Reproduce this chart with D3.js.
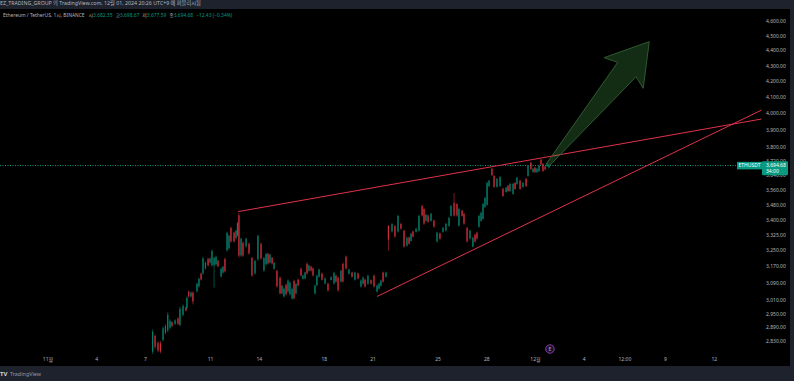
<!DOCTYPE html>
<html>
<head>
<meta charset="utf-8">
<script src="https://cdn.jsdelivr.net/npm/d3@7"></script>
<style>
  html, body { margin:0; padding:0; background:#1e222d; overflow:hidden; }
  svg { display:block; }
  text { font-family:"Noto Sans","Noto Sans CJK KR",sans-serif; }
</style>
</head>
<body>
<div class="chart"></div>
<script>
// candle time: days after Nov 1 2024, then open / high / low / close
const candleDay = [6.47,6.62,6.80,6.95,7.11,7.26,7.40,7.54,7.66,7.85,8.03,8.15,8.34,8.52,8.58,8.69,8.83,8.95,9.20,9.32,
  9.45,9.57,9.72,9.88,10.0,10.12,10.25,10.37,10.49,10.68,10.80,10.92,11.05,11.17,11.29,11.48,11.60,11.69,11.78,11.91,
  12.03,12.22,12.40,12.58,12.77,12.95,13.14,13.32,13.45,13.57,13.69,13.82,13.94,14.12,14.31,14.43,14.55,14.68,14.80,14.92,
  15.05,15.17,15.29,15.42,15.60,15.72,15.85,15.97,16.09,16.22,16.34,16.46,16.58,16.71,16.89,17.08,17.26,17.45,17.63,17.75,
  17.88,18.06,18.18,18.37,18.55,18.74,18.92,19.11,19.29,19.42,19.54,19.72,19.91,20.09,20.28,20.40,20.52,20.65,20.83,20.98,
  21.20,21.38,21.57,21.75,21.94,22.12,22.25,22.37,22.49,22.68,22.86,23.05,23.17,23.29,23.42,23.60,23.78,23.97,24.15,24.34,
  24.52,24.71,24.83,25.02,25.20,25.32,25.51,25.63,25.82,26.00,26.18,26.31,26.43,26.55,26.68,26.80,26.92,27.05,27.17,27.35,
  27.48,27.66,27.85,28.03,28.22,28.34,28.46,28.65,28.77,28.89,29.08,29.26,29.45,29.57,29.75,29.88,30.0,30.12,30.25,30.37,
  30.49,30.62,30.74,30.86];
const candleOpen = [2785,2852,2822,2820,2835,2865,2875,2888,2912,2905,2928,2900,2945,2978,2975,3050,3028,3046,3052,3075,
  3135,3136,3160,3205,3188,3175,3175,3180,3197,3122,3140,3205,3248,3258,3360,3336,3308,3322,3425,3222,
  3285,3268,3280,3210,3136,3203,3280,3150,3180,3230,3188,3212,3158,3148,3115,3042,3028,3082,3051,3038,
  3018,3100,3042,3106,3158,3110,3112,3182,3148,3168,3160,3042,3080,3120,3135,3088,3087,3105,3088,3125,
  3116,3097,3182,3216,3134,3140,3106,3136,3074,3087,3106,3087,3104,3125,3050,3064,3078,3140,3120,3370,
  3342,3370,3342,3380,3346,3270,3312,3295,3342,3340,3346,3474,3458,3396,3424,3396,3398,3292,3332,3340,
  3346,3370,3422,3490,3484,3372,3450,3433,3360,3306,3266,3326,3336,3366,3396,3406,3468,3480,3580,3676,
  3636,3576,3580,3566,3548,3582,3553,3538,3598,3592,3610,3575,3620,3636,3710,3657,3682,3657,3662,3727,
  3703,3688,3690,3682.35];
const candleHigh = [2881,2859,2829,2829,2894,2903,2956,2925,2916,2925,2934,2982,2992,2982,3028,3055,3051,3051,3092,3116,
  3140,3216,3192,3212,3212,3251,3216,3222,3202,3164,3173,3212,3341,3326,3366,3341,3351,3391,3437,3311,
  3291,3311,3286,3216,3202,3326,3286,3216,3236,3236,3232,3216,3192,3154,3121,3083,3069,3088,3107,3098,
  3069,3107,3092,3111,3164,3130,3144,3188,3178,3173,3164,3083,3130,3159,3140,3116,3092,3121,3144,3130,
  3121,3154,3188,3222,3159,3144,3144,3140,3107,3121,3111,3130,3107,3130,3083,3092,3107,3144,3144,3376,
  3386,3376,3428,3386,3351,3316,3316,3336,3346,3361,3428,3480,3464,3433,3428,3438,3402,3341,3336,3366,
  3386,3418,3480,3543,3490,3464,3454,3438,3366,3351,3316,3331,3341,3428,3444,3490,3522,3603,3614,3680,
  3642,3625,3636,3571,3576,3587,3598,3598,3603,3631,3614,3603,3625,3697,3714,3680,3686,3680,3697,3731,
  3708,3691,3708,3698.67];
const candleLow = [2774,2795,2782,2778,2829,2859,2868,2881,2890,2899,2899,2894,2938,2960,2969,3023,3023,2992,3046,3069,
  3102,3130,3154,3168,3183,3168,3069,3173,3164,3116,3135,3140,3241,3251,3286,3286,3301,3316,3212,3216,
  3216,3261,3227,3120,3130,3197,3202,3144,3173,3178,3183,3178,3154,3069,3037,3037,3023,3032,3046,3032,
  3014,3014,3037,3074,3121,3107,3107,3130,3144,3144,3121,3037,3074,3116,3102,3083,3051,3102,3083,3092,
  3051,3092,3092,3154,3130,3116,3102,3107,3069,3083,3069,3083,3083,3069,3046,3060,3074,3092,3116,3246,
  3336,3311,3336,3351,3261,3266,3276,3291,3311,3336,3341,3418,3376,3392,3386,3392,3361,3286,3301,3336,
  3341,3366,3418,3418,3418,3366,3418,3376,3286,3301,3261,3286,3301,3361,3392,3402,3464,3475,3576,3636,
  3571,3571,3576,3522,3544,3549,3549,3533,3560,3587,3560,3571,3576,3631,3669,3653,3653,3653,3658,3697,
  3658,3669,3686,3677.59];
const candleClose = [2870,2805,2790,2786,2885,2895,2945,2918,2896,2920,2905,2972,2985,2964,3022,3028,3046,3005,3087,3110,
  3107,3208,3188,3175,3208,3245,3210,3216,3170,3158,3168,3146,3335,3320,3292,3292,3345,3385,3222,3305,
  3222,3305,3232,3126,3196,3320,3208,3210,3230,3184,3226,3184,3187,3075,3042,3078,3064,3038,3102,3092,
  3062,3020,3086,3079,3126,3126,3140,3136,3174,3150,3126,3078,3125,3154,3106,3112,3056,3118,3138,3097,
  3056,3148,3098,3160,3154,3120,3140,3111,3102,3116,3074,3125,3087,3074,3078,3088,3102,3097,3140,3301,
  3380,3316,3422,3356,3266,3310,3280,3331,3316,3356,3422,3424,3382,3428,3391,3433,3366,3336,3305,3361,
  3381,3412,3474,3424,3424,3458,3422,3382,3292,3346,3310,3291,3306,3422,3438,3484,3516,3597,3610,3640,
  3576,3620,3630,3527,3572,3553,3592,3592,3565,3626,3565,3598,3580,3692,3674,3676,3657,3676,3692,3700,
  3663,3672,3704,3694.68];

// hand drawn trend lines and arrow, as [day, price]
const resistanceLine = [[11.72,3444],[43.94,3964]];
const supportLine = [[20.28,3028],[43.94,4018]];
const arrowShape = [[30.71,3705],[35.09,4320],[34.25,4351],[37.03,4458],[36.66,4153],[36.22,4227],[30.89,3693]];

const lastPrice = 3694.68;
const priceTicks = [4600,4500,4400,4300,4200,4100,4000,3900,3800,3720,3640,3560,3480,3400,3325,3250,3170,3090,3010,2950,2890,2830];
const dayTicks = [0,3,6,10,13,17,20,24,27,30,33,35.5,38,41];
const dayLabels = ["11월","4","7","11","14","18","21","25","28","12월","4","12:00","9","12"];
const legendValues = [["시","3,682.35"],["고","3,698.67"],["저","3,677.59"],["종","3,694.68"]];

const chart = {width:794, height:381, top:9, bottom:366, right:790, plotRight:762};
const teal = "#089981";
const red = "#f23645";

const startDate = Date.UTC(2024,10,1);
const toDate = d => new Date(startDate + d*864e5);

// days run at 16.25px, prices on a log scale like the original
const xScale = d3.scaleUtc()
                 .domain([toDate(0),toDate(30)])
                 .range([47.5,535]);
const yScale = d3.scaleLog()
                 .domain([2830,4600])
                 .range([341,21]);
const px = p => [xScale(toDate(p[0])), yScale(p[1])];

const svg = d3.select(".chart")
              .append("svg")
                .attr("width",chart.width)
                .attr("height",chart.height);

svg.append("rect")
   .attr("y",chart.top)
   .attr("width",chart.right)
   .attr("height",chart.bottom-chart.top)
   .attr("fill","#000");

// last price line
svg.append("line")
   .attr("x1",0)
   .attr("x2",737)
   .attr("y1",Math.round(yScale(lastPrice))+0.5)
   .attr("y2",Math.round(yScale(lastPrice))+0.5)
   .attr("stroke",teal)
   .attr("stroke-width",1)
   .attr("stroke-dasharray","1,1.5");

// candles
const candles = svg.append("g")
  .attr("opacity",0.85)
  .selectAll("g")
  .data(candleDay.map((d,i)=>i))
  .enter()
  .append("g")
    .attr("transform",i=>`translate(${xScale(toDate(candleDay[i]))},0)`)
    .attr("fill",i=>candleClose[i]>=candleOpen[i] ? teal : red)
    .attr("stroke",i=>candleClose[i]>=candleOpen[i] ? teal : red);

candles.append("line")
   .attr("y1",i=>yScale(candleHigh[i]))
   .attr("y2",i=>yScale(candleLow[i]))
   .attr("stroke-width",0.6);

candles.append("rect")
   .attr("x",-0.6)
   .attr("width",1.2)
   .attr("y",i=>yScale(Math.max(candleOpen[i],candleClose[i])))
   .attr("height",i=>Math.abs(yScale(candleOpen[i])-yScale(candleClose[i])))
   .attr("stroke","none");

// trend lines
const line = d3.line();
[resistanceLine,supportLine].forEach(l=>{
  svg.append("path")
     .attr("d",line(l.map(px)))
     .attr("fill","none")
     .attr("stroke","#e0324a")
     .attr("stroke-width",1);
});

// green arrow
svg.append("path")
   .attr("d",line(arrowShape.map(px))+"Z")
   .attr("fill","#4caf50")
   .attr("fill-opacity",0.25)
   .attr("stroke","#2f5a30")
   .attr("stroke-width",1);

// axes
const yAxis = d3.axisRight(yScale)
                .tickValues(priceTicks)
                .tickFormat(d3.format(",.2f"))
                .tickSize(0)
                .tickPadding(4);
const yAxisGroup = svg.append("g")
   .attr("transform",`translate(${chart.plotRight},0)`)
   .call(yAxis);

const xAxis = d3.axisBottom(xScale)
                .tickValues(dayTicks.map(toDate))
                .tickFormat((d,i)=>dayLabels[i])
                .tickSize(0)
                .tickPadding(0);
const xAxisGroup = svg.append("g")
   .attr("transform","translate(0,357.5)")
   .call(xAxis);

[yAxisGroup,xAxisGroup].forEach(g=>{
  g.select(".domain").remove();
  g.selectAll("text")
   .attr("fill","#b2b5be")
   .attr("font-size",5)
   .attr("font-family",'"Noto Sans","Noto Sans CJK KR",sans-serif');
});

// price labels
const yLast = yScale(lastPrice);
svg.append("rect")
   .attr("x",737).attr("y",yLast-3.5)
   .attr("width",25).attr("height",7.5)
   .attr("fill",teal);
svg.append("text")
   .attr("x",749.5).attr("y",yLast+2)
   .attr("text-anchor","middle")
   .attr("font-size",5)
   .attr("fill","#fff")
   .text("ETHUSDT");
svg.append("rect")
   .attr("x",762).attr("y",yLast-4)
   .attr("width",26).attr("height",14)
   .attr("rx",1)
   .attr("fill",teal);
svg.append("text")
   .attr("x",766).attr("y",yLast+2)
   .attr("font-size",5)
   .attr("fill","#fff")
   .text(d3.format(",.2f")(lastPrice));
svg.append("text")
   .attr("x",766).attr("y",yLast+8)
   .attr("font-size",5)
   .attr("fill","#fff")
   .text("34:00");

// event marker under the last candles
const markerX = xScale(toDate(30.92));
svg.append("circle")
   .attr("cx",markerX).attr("cy",349)
   .attr("r",4.2)
   .attr("fill","#1c0f24")
   .attr("stroke","#8e3bb0")
   .attr("stroke-width",1);
svg.append("text")
   .attr("x",markerX).attr("y",351)
   .attr("text-anchor","middle")
   .attr("font-size",5)
   .attr("fill","#c9a0dc")
   .text("E");

// publish line on the top bar
svg.append("text")
   .attr("x",0).attr("y",5.2)
   .attr("font-size",5.25)
   .attr("fill","#b2b5be")
   .text("EZ_TRADING_GROUP 의 TradingView.com, 12월 01, 2024 20:26 UTC+9 에 퍼블리시됨");

// symbol legend
const legend = svg.append("text")
   .attr("x",3).attr("y",17)
   .attr("font-size",4.9)
   .attr("fill","#b2b5be");
legend.append("tspan").text("Ethereum / TetherUS, 1시, BINANCE");
legendValues.forEach((v,i)=>{
  legend.append("tspan").attr("dx",i==0 ? 4 : 3).text(v[0]);
  legend.append("tspan").attr("fill",teal).text(v[1]);
});
legend.append("tspan").attr("dx",3).attr("fill",teal).text("−12.43 (−0.34%)");

// bottom bar logo
svg.append("text")
   .attr("x",0).attr("y",376)
   .attr("font-size",6)
   .attr("font-weight",700)
   .attr("fill","#d1d4dc")
   .text("TV");
svg.append("text")
   .attr("x",10).attr("y",376)
   .attr("font-size",5.4)
   .attr("fill","#9598a1")
   .text("TradingView");
</script>
</body>
</html>
